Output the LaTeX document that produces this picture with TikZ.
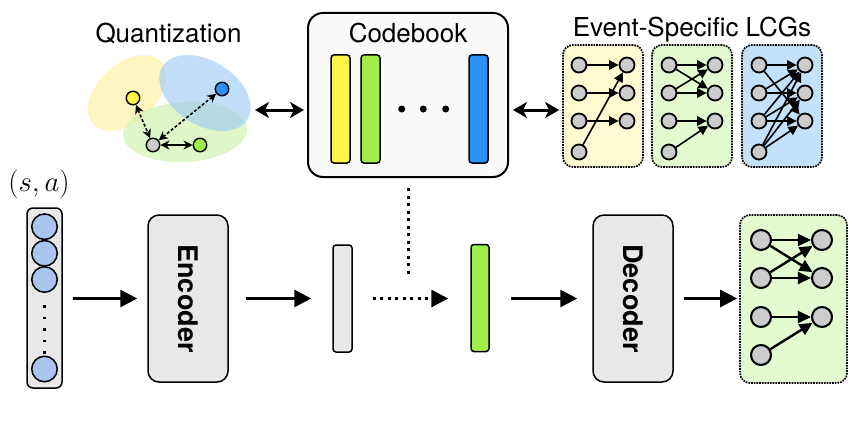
\documentclass[tikz,border=0pt]{standalone}
\usepackage{graphicx}
\usepackage{fontspec}
\setmainfont{TeX Gyre Heros}
\usetikzlibrary{arrows.meta,shapes.geometric}
\definecolor{ellY}{HTML}{FFF2A8}
\definecolor{ellB}{HTML}{9CC9F4}
\definecolor{ellG}{HTML}{D2F4B2}
\definecolor{cY}{HTML}{FFF54A}
\definecolor{cG}{HTML}{A2EF4B}
\definecolor{cB}{HTML}{2A92F3}
\definecolor{cGray}{HTML}{CCCCCC}
\definecolor{boxY}{HTML}{FFFBD2}
\definecolor{boxG}{HTML}{E2FBD0}
\definecolor{boxB}{HTML}{C4E1FB}
\definecolor{inBlue}{HTML}{A9C5EE}
\definecolor{modGray}{HTML}{E8E8E8}
\definecolor{cbFill}{HTML}{FAFAFA}
\tikzset{
  x=1pt, y=-1pt,
  gnode/.style={circle, draw, line width=1.8pt, fill=cGray, minimum size=15pt, inner sep=0pt},
  bignode/.style={circle, draw, line width=2.1pt, fill=cGray, minimum size=20pt, inner sep=0pt},
  qnode/.style={circle, draw, line width=1.4pt, minimum size=13.5pt, inner sep=0pt},
  incirc/.style={circle, draw, line width=1.5pt, fill=inBlue, minimum size=25.5pt, inner sep=0pt},
  lcgbox/.style={draw, densely dotted, line width=1.7pt, rounded corners=10pt, inner sep=0pt},
  bar/.style={draw, line width=1.5pt, rounded corners=3pt, inner sep=0pt, minimum width=19pt, minimum height=108pt},
  module/.style={draw, line width=1.5pt, rounded corners=11pt, fill=modGray, inner sep=0pt, minimum width=80pt, minimum height=167pt},
  edge/.style={line width=1.6pt, -{Triangle[length=9.5pt,width=9.5pt]}},
  bigedge/.style={line width=2.4pt, -{Triangle[length=13pt,width=12pt]}},
  mainarrow/.style={line width=2.6pt, -{Triangle[length=17pt,width=17pt]}},
  dblarrow/.style={line width=3pt, {Stealth[length=14pt,width=16pt,inset=4pt]}-{Stealth[length=14pt,width=16pt,inset=4pt]}},
  qdash/.style={line width=1.6pt, dash pattern=on 3pt off 2pt, {Stealth[length=9pt,width=9pt]}-{Stealth[length=9pt,width=9pt]}},
  qsolid/.style={line width=1.6pt, {Stealth[length=9pt,width=9pt]}-{Stealth[length=9pt,width=9pt]}},
  dotline/.style={line width=3pt, dash pattern=on 3pt off 4.5pt},
  title/.style={font=\fontsize{26}{30}\selectfont, anchor=base, inner sep=0pt},
  modlabel/.style={font=\fontsize{27}{30}\selectfont\bfseries, rotate=-90, inner sep=0pt},
}
\begin{document}
\begin{tikzpicture}
\useasboundingbox (0,0) rectangle (856,428);
\fill[white] (0,0) rectangle (856,428);

% ---------- Quantization ----------
\node[title] (qtitle) at (168.5,43) {Quantization};
\node[ellipse, fill=ellY, fill opacity=0.7, minimum width=92pt, minimum height=58pt, rotate=43, inner sep=0pt] (eY) at (127,93) {};
\node[ellipse, fill=ellG, fill opacity=0.7, minimum width=124pt, minimum height=60pt, rotate=3, inner sep=0pt] (eG) at (185,132) {};
\node[ellipse, fill=ellB, fill opacity=0.62, minimum width=100pt, minimum height=64pt, rotate=-32, inner sep=0pt] (eB) at (205,93) {};
\node[qnode, fill=cY] (qy) at (133,98) {};
\node[qnode, fill=cB] (qb) at (222,89) {};
\node[qnode, fill=cGray] (qg) at (153,145) {};
\node[qnode, fill=cG] (qgr) at (200,145) {};
\draw[qdash] (qy) -- (qg);
\draw[qdash] (qg) -- (qb);
\draw[qsolid] (qg) -- (qgr);

% ---------- Codebook ----------
\node[draw, line width=2pt, rounded corners=15pt, fill=cbFill, minimum width=200pt, minimum height=164pt, inner sep=0pt] (cb) at (408,95) {};
\node[title] (cbtitle) at (408,43) {Codebook};
\node[bar, fill=cY] (cbY) at (340.5,109) {};
\node[bar, fill=cG] (cbG) at (370.5,109) {};
\node[bar, fill=cB] (cbB) at (478.5,109) {};
\fill (401.7,109) circle (3.5pt) (423.3,109) circle (3.5pt) (445.7,109) circle (3.5pt);

% ---------- Event-specific LCGs ----------
\node[title] (ltitle) at (692,37) {Event-Specific LCGs};
\node[lcgbox, fill=boxY, minimum width=80pt, minimum height=122pt] (lY) at (603,106) {};
\node[lcgbox, fill=boxG, minimum width=80pt, minimum height=122pt] (lG) at (692,106) {};
\node[lcgbox, fill=boxB, minimum width=80pt, minimum height=122pt] (lB) at (782,106) {};
\foreach \p/\lx/\rx in {ya/579/627, gb/669/715, bc/759/805} {
  \foreach \i/\yy in {1/65,2/93,3/121,4/152} {\node[gnode] (\p l\i) at (\lx,\yy) {};}
  \foreach \i/\yy in {1/65,2/93,3/121} {\node[gnode] (\p r\i) at (\rx,\yy) {};}
}
\foreach \a/\b in {1/1,2/2,3/3,4/1} {\draw[edge] (yal\a) -- (yar\b);}
\foreach \a/\b in {1/1,1/2,2/1,2/2,3/3,4/3} {\draw[edge] (gbl\a) -- (gbr\b);}
\foreach \a/\b in {1/1,1/3,2/1,2/2,3/1,3/2,3/3,4/1,4/2,4/3} {\draw[edge] (bcl\a) -- (bcr\b);}

% top double arrows
\coordinate (qR) at (255,110);
\draw[dblarrow] (qR) -- ([xshift=-3pt]cb.west |- qR);
\draw[dblarrow] ([xshift=4pt]cb.east |- qR) -- ([xshift=-3pt]lY.west |- qR);

% ---------- Bottom pipeline ----------
\node[inner sep=0pt] (sa) at (39,184) {\scalebox{1.16}{\fontsize{24.88}{28}\selectfont$(s,a)$}};
\node[draw, line width=1.5pt, rounded corners=6pt, fill=modGray, minimum width=35pt, minimum height=180pt, inner sep=0pt] (inbox) at (44.5,298) {};
\foreach \i/\yy in {1/226.7,2/253.3,3/279.5,4/369} {\node[incirc] (in\i) at (44.5,\yy) {};}
\draw[line width=2.5pt, dash pattern=on 2.5pt off 9pt] (in3.south) ++(0,12) coordinate (dA) -- (in4.north) coordinate (dB);

\node[module] (enc) at (188,298.5) {};
\node[modlabel] (enctext) at (enc.center) {Encoder};
\node[bar, fill=modGray, minimum height=107pt] (zbar) at (342.5,298.5) {};
\node[bar, fill=cG, minimum width=18pt, minimum height=107pt] (qbar) at (480,298) {};
\node[module] (dec) at (633,298.5) {};
\node[modlabel] (dectext) at (dec.center) {Decoder};

\node[lcgbox, fill=boxG, minimum width=107pt, minimum height=168pt] (lout) at (793.5,299) {};
\foreach \i/\yy in {1/240,2/278,3/317,4/355} {\node[bignode] (ol\i) at (761,\yy) {};}
\foreach \i/\yy in {1/240,2/278,3/317} {\node[bignode] (or\i) at (822,\yy) {};}
\foreach \a/\b in {1/1,1/2,2/1,2/2,3/3,4/3} {\draw[bigedge] (ol\a) -- (or\b);}

\draw[mainarrow] ([xshift=10pt]inbox.east |- enc) -- ([xshift=-10pt]enc.west);
\draw[mainarrow] ([xshift=17pt]enc.east) -- ([xshift=-21pt]zbar.west |- enc);
\draw[dotline, -{Triangle[length=17pt,width=17pt]}] ([xshift=20pt]zbar.east |- enc) -- ([xshift=-22pt]qbar.west |- enc);
\draw[mainarrow] ([xshift=21pt]qbar.east |- enc) -- ([xshift=-15pt]dec.west);
\draw[mainarrow] ([xshift=10pt]dec.east) -- ([xshift=-2pt]lout.west |- dec);

\coordinate (dotend) at (408,278);
\draw[dotline] ([yshift=-10pt]cb.south) -- (dotend);
\end{tikzpicture}
\end{document}
